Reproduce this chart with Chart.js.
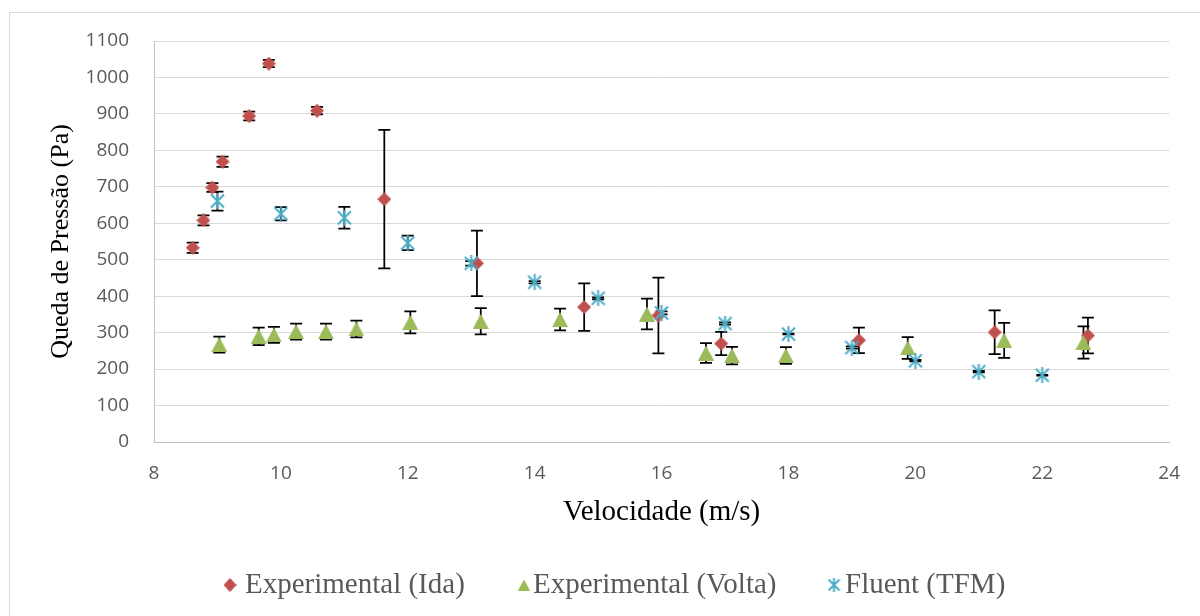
<!DOCTYPE html>
<html>
<head>
<meta charset="utf-8">
<script src="https://cdn.jsdelivr.net/npm/chart.js@4/dist/chart.umd.min.js"></script>
<style>
  body { margin: 0; background: #fff; }
  #frame { position: absolute; left: 9px; top: 12px; width: 1200px; height: 620px; border: 1px solid #d9d9d9; }
  #chart { position: absolute; left: 0; top: 0; }
</style>
</head>
<body>
<div id="frame"></div>
<canvas id="chart" width="1200" height="616"></canvas>
<script>
// Experimental runs going up in velocity (Ida)
const idaSpeed = [8.61, 8.78, 8.92, 9.08, 9.50, 9.81, 10.57, 11.63, 13.09, 14.78, 15.95, 16.94, 19.11, 21.25, 22.72];
const idaPressure = [533, 608, 698, 769, 894, 1038, 909, 666, 490, 370, 347, 270, 279, 301, 292];
const idaError = [14, 14, 12, 14, 12, 10, 10, 190, 90, 65, 104, 32, 35, 60, 49];

// Experimental runs coming back down (Volta)
const voltaSpeed = [9.03, 9.65, 9.89, 10.24, 10.71, 11.19, 12.04, 13.15, 14.40, 15.77, 16.70, 17.11, 17.96, 19.88, 21.40, 22.65];
const voltaPressure = [267, 290, 294, 303, 303, 310, 328, 331, 336, 351, 244, 237, 237, 258, 279, 273];
const voltaError = [22, 24, 22, 22, 22, 23, 30, 36, 30, 42, 27, 24, 23, 30, 48, 44];

// Fluent TFM simulations
const fluentSpeed = [9, 10, 11, 12, 13, 14, 15, 16, 17, 18, 19, 20, 21, 22];
const fluentPressure = [661, 626, 615, 546, 490, 438, 394, 354, 325, 296, 259, 223, 193, 183];
const fluentError = [26, 18, 30, 20, 6, 3, 3, 4, 3, 1, 3, 2, 2, 1];

const xTicks = [8, 24, 2];     // min, max, step
const yTicks = [0, 1100, 100];

const tickFont = { family: 'Open Sans', size: 19 };
const serif = 'Liberation Serif';

// Excel-like markers drawn on small canvases
function makeMarker(shape, w, h, color) {
  const c = document.createElement('canvas');
  c.width = w;
  c.height = h;
  const g = c.getContext('2d');
  g.fillStyle = color;
  g.strokeStyle = color;
  g.beginPath();
  if (shape === 'diamond') {
    g.moveTo(w / 2, 0);
    g.lineTo(w, h / 2);
    g.lineTo(w / 2, h);
    g.lineTo(0, h / 2);
    g.closePath();
    g.fill();
  } else if (shape === 'triangle') {
    g.moveTo(w / 2, 0);
    g.lineTo(w, h);
    g.lineTo(0, h);
    g.closePath();
    g.fill();
  } else {
    g.lineWidth = 2;
    g.moveTo(w / 2, 0);
    g.lineTo(w / 2, h);
    g.moveTo(1, 1.5);
    g.lineTo(w - 1, h - 1.5);
    g.moveTo(1, h - 1.5);
    g.lineTo(w - 1, 1.5);
    g.stroke();
  }
  return c;
}

const toPoints = (xs, ys) => xs.map((x, i) => ({ x: x, y: ys[i] }));

const datasets = [
  {
    label: 'Experimental (Ida)',
    data: toPoints(idaSpeed, idaPressure),
    errors: idaError,
    pointStyle: makeMarker('diamond', 14, 14, '#c0504d'),
    legendMarker: makeMarker('diamond', 13, 14, '#c0504d'),
    order: 3
  },
  {
    label: 'Experimental (Volta)',
    data: toPoints(voltaSpeed, voltaPressure),
    errors: voltaError,
    pointStyle: makeMarker('triangle', 16, 15, '#9bbb59'),
    legendMarker: makeMarker('triangle', 12, 11, '#9bbb59'),
    order: 2
  },
  {
    label: 'Fluent (TFM)',
    data: toPoints(fluentSpeed, fluentPressure),
    errors: fluentError,
    pointStyle: makeMarker('asterisk', 15, 16, '#4bacc6'),
    legendMarker: makeMarker('asterisk', 13, 14, '#4bacc6'),
    order: 1
  }
];
datasets.forEach(ds => { ds.pointRadius = 8; ds.showLine = false; });

// vertical error bars with caps, under the markers
const errorBars = {
  id: 'errorBars',
  beforeDatasetsDraw(chart) {
    const { ctx, scales: { x, y } } = chart;
    ctx.save();
    ctx.strokeStyle = '#000';
    ctx.lineWidth = 1.75;
    chart.data.datasets.forEach(ds => {
      ds.data.forEach((pt, i) => {
        const e = ds.errors[i];
        const px = x.getPixelForValue(pt.x);
        const top = y.getPixelForValue(pt.y + e);
        const bottom = y.getPixelForValue(pt.y - e);
        ctx.beginPath();
        ctx.moveTo(px, top);
        ctx.lineTo(px, bottom);
        ctx.moveTo(px - 6, top);
        ctx.lineTo(px + 6, top);
        ctx.moveTo(px - 6, bottom);
        ctx.lineTo(px + 6, bottom);
        ctx.stroke();
      });
    });
    ctx.restore();
  }
};

// one-row legend under the axis title
const legendSlots = [
  { marker: 230, text: 245 },
  { marker: 524, text: 533 },
  { marker: 834, text: 845 }
];
const legendRow = {
  id: 'legendRow',
  afterDraw(chart) {
    const ctx = chart.ctx;
    ctx.save();
    ctx.font = '29px "' + serif + '"';
    ctx.fillStyle = '#595959';
    ctx.textBaseline = 'alphabetic';
    chart.data.datasets.forEach((ds, i) => {
      const slot = legendSlots[i];
      const img = ds.legendMarker;
      ctx.drawImage(img, slot.marker - img.width / 2, 585 - img.height / 2);
      ctx.fillText(ds.label, slot.text, 593);
    });
    ctx.restore();
  }
};

new Chart(document.getElementById('chart'), {
  type: 'scatter',
  data: { datasets },
  options: {
    responsive: false,
    animation: false,
    layout: { padding: { left: 0, right: 29, top: 41, bottom: 0 } },
    plugins: {
      legend: { display: false },
      tooltip: { enabled: false }
    },
    scales: {
      x: {
        type: 'linear',
        min: xTicks[0],
        max: xTicks[1],
        ticks: { stepSize: xTicks[2], color: '#595959', font: tickFont, padding: 20 },
        grid: { display: false, drawTicks: false },
        border: { color: '#bfbfbf' },
        title: {
          display: true,
          text: 'Velocidade (m/s)',
          color: '#000',
          font: { family: serif, size: 29 },
          padding: { top: 0, bottom: 86 }
        },
        afterFit(scale) { scale.height = 174; }
      },
      y: {
        min: yTicks[0],
        max: yTicks[1],
        ticks: {
          stepSize: yTicks[2],
          color: '#595959',
          font: tickFont,
          padding: 25,
          callback: value => String(value)   // no thousands separator
        },
        grid: { color: '#d9d9d9', drawTicks: false },
        border: { color: '#bfbfbf' },
        title: {
          display: true,
          text: 'Queda de Pressão (Pa)',
          color: '#000',
          font: { family: serif, size: 26 },
          padding: { top: 46, bottom: 0 }
        },
        afterFit(scale) { scale.width = 154; }
      }
    }
  },
  plugins: [errorBars, legendRow]
});
</script>
</body>
</html>
